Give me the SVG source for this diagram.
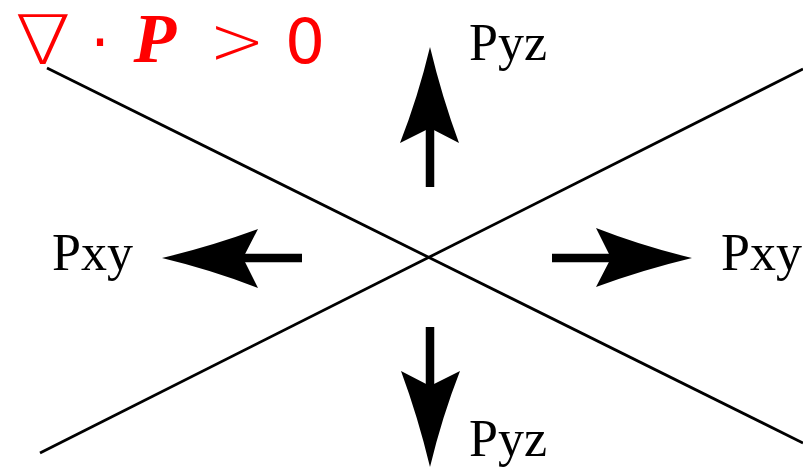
<svg xmlns="http://www.w3.org/2000/svg" width="803" height="469" viewBox="0 0 803 469">
  <style>
    .ln { stroke: #000; stroke-width: 2.8; fill: none; }
    .lbl { font-family: "Liberation Serif", "Times New Roman", serif; font-size: 52px; fill: #000; }
    .eq { fill: #ff0000; }
    .sans { font-family: "DejaVu Sans", sans-serif; }
    .light { font-family: "DejaVu Sans", sans-serif; font-weight: 200; }
    .bi { font-family: "Liberation Serif", serif; font-weight: bold; font-style: italic; }
  </style>
  <defs>
    <g id="arrow">
      <path d="M0,0 Q-12,50 -30,96 L0,81 L29,96 Q12,50 0,0 Z" fill="#000"/>
      <rect x="-4.25" y="75" width="8.5" height="65" fill="#000"/>
    </g>
  </defs>
  <rect width="803" height="469" fill="#fff"/>
  <g id="connectors">
    <line class="ln" x1="47" y1="68" x2="803" y2="443"/>
    <line class="ln" x1="40" y1="453" x2="803" y2="69"/>
  </g>
  <g id="arrow-up"><use href="#arrow" transform="translate(430,47)"/></g>
  <g id="arrow-down"><use href="#arrow" transform="translate(430,467) rotate(180)"/></g>
  <g id="arrow-left"><use href="#arrow" transform="translate(162,258) rotate(-90)"/></g>
  <g id="arrow-right"><use href="#arrow" transform="translate(692,258) rotate(90)"/></g>
  <g id="label-pyz-top"><text class="lbl" x="469" y="60">Pyz</text></g>
  <g id="label-pyz-bottom"><text class="lbl" x="469" y="456">Pyz</text></g>
  <g id="label-pxy-left"><text class="lbl" x="52" y="270">Pxy</text></g>
  <g id="label-pxy-right"><text class="lbl" x="721" y="270">Pxy</text></g>
  <g id="equation" class="eq">
    <text class="light" x="36.1" y="64" font-size="68" text-anchor="middle" transform="scale(1.19,1)">∇</text>
    <text class="sans" x="100" y="63" font-size="60" text-anchor="middle">·</text>
    <text class="bi" x="155" y="62" font-size="70" text-anchor="middle">P</text>
    <text class="light" x="237" y="64" font-size="67" text-anchor="middle">&gt;</text>
    <text class="sans" x="305" y="63" font-size="63" text-anchor="middle">0</text>
  </g>
</svg>
